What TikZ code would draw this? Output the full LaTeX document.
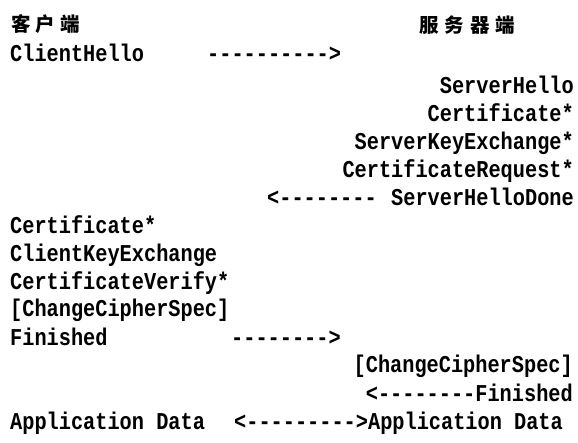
\documentclass[tikz,border=0pt]{standalone}
\usepackage{fontspec}
\setmonofont{Liberation Mono}[FakeStretch=0.84]
\newfontfamily\cjk{Noto Sans CJK SC}
\tikzset{
  msg/.style={inner sep=0pt, font=\ttfamily\bfseries\fontsize{24.15}{28}\selectfont},
  lmsg/.style={msg, anchor=base west},
  rmsg/.style={msg, anchor=base east},
  head/.style={inner sep=0pt, anchor=base west, font=\cjk\bfseries\fontsize{19.5}{22}\selectfont},
}
\begin{document}
\begin{tikzpicture}[x=1pt,y=-1pt]
\useasboundingbox (0,0) rectangle (578,443);
% headers
\node[head] (hc) at (11,31.5) {客\kern5pt户\kern5pt端};
\node[head] (hs) at (419,32.5) {服\kern6pt务\kern6pt器\kern6pt端};
% client hello
\node[lmsg] (c1) at (10,61.5) {ClientHello};
\node[lmsg] (a1) at (207,61.5) {---------->};
% server flight
\node[rmsg] (s1) at (574,94) {ServerHello};
\node[rmsg] (s2) at (574,122) {Certificate*};
\node[rmsg] (s3) at (574,150) {ServerKeyExchange*};
\node[rmsg] (s4) at (574,178) {CertificateRequest*};
\node[rmsg] (s5) at (574,206) {ServerHelloDone};
\node[lmsg] (a2) at (267,206) {<--------};
% client flight
\node[lmsg] (c2) at (10,234) {Certificate*};
\node[lmsg] (c3) at (10,261.5) {ClientKeyExchange};
\node[lmsg] (c4) at (10,289.5) {CertificateVerify*};
\node[lmsg] (c5) at (10,317) {[ChangeCipherSpec]};
\node[lmsg] (c6) at (10,345) {Finished};
\node[lmsg] (a3) at (231,345) {-------->};
% server finish
\node[rmsg] (s6) at (573,373) {[ChangeCipherSpec]};
\node[rmsg] (s7) at (573,401) {<--------Finished};
% application data
\node[lmsg] (c7) at (10,429) {Application Data};
\node[lmsg] (s8) at (234,429) {<--------->Application Data};
\end{tikzpicture}
\end{document}
